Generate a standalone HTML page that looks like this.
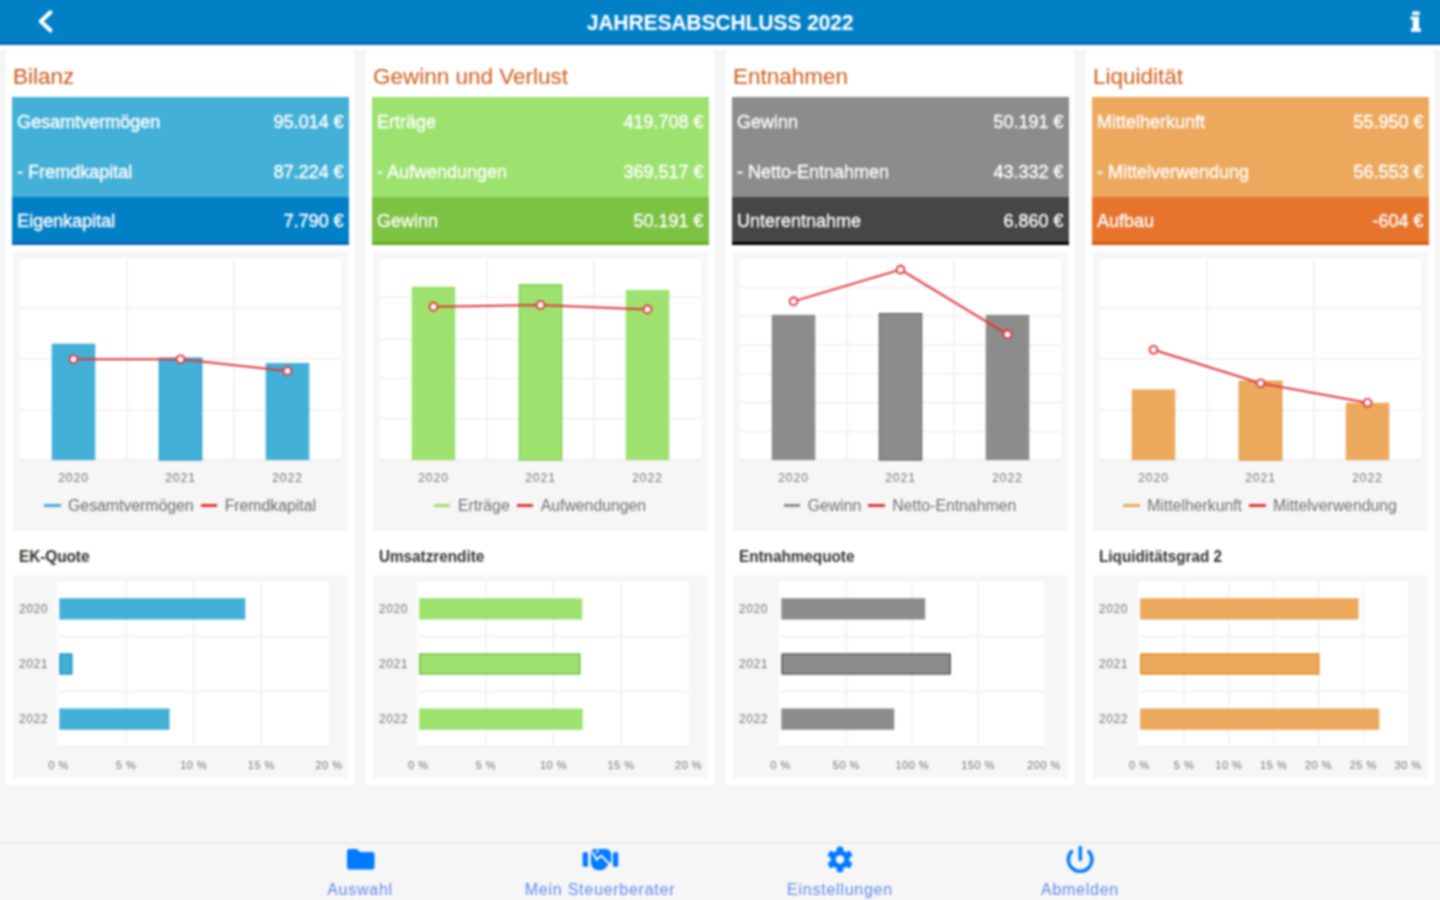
<!DOCTYPE html>
<html><head><meta charset="utf-8"><title>Jahresabschluss 2022</title>
<style>
*{margin:0;padding:0;box-sizing:content-box}
html,body{width:1440px;height:900px;overflow:hidden;background:#f6f6f6;font-family:"Liberation Sans", sans-serif}
body{position:relative}
.t,.rt,.ax,.lg,.st,.nv{position:absolute;white-space:nowrap}
.t{line-height:26px}
.rt{color:#fff;font-size:18px;line-height:21px;-webkit-text-stroke:0.35px #fff}
.ax{color:#747474;font-size:12px;line-height:16px;letter-spacing:1px}
.ax2{font-size:11px;letter-spacing:0.5px}
.ax3{letter-spacing:0.6px}
.lg{text-align:center;font-size:15.8px;line-height:18px;color:#707070}
.ll{display:inline-block;width:16.5px;height:3px;vertical-align:middle;margin-right:7.5px;position:relative;top:-1px}
.st{font-size:16px;font-weight:700;color:#333;line-height:20px}
.nv{width:200px;text-align:center;top:880px;font-size:16px;letter-spacing:0.75px;color:#5f88ee;line-height:20px}
</style></head>
<body>
<div id="wrap" style="position:absolute;left:0;top:0;width:1440px;height:900px;filter:blur(1px)">

<div style="position:absolute;left:-12px;top:-12px;width:1464px;height:54px;background:#0280c6;border-bottom:3px solid #0467b4"></div>
<div style="position:absolute;left:-12px;top:45px;width:1464px;height:4.5px;background:#fff"></div>
<svg style="position:absolute;left:0;top:0" width="1440" height="45" viewBox="0 0 1440 45">
 <polyline points="50.5,12.3 40.8,21.3 50.5,30.4" fill="none" stroke="#fff" stroke-width="4.1" stroke-linecap="round" stroke-linejoin="round"/>
 <rect x="1412" y="11.5" width="7.8" height="3.4" rx="1.2" fill="#fff"/>
 <path d="M1410.5 16.5 L1419 16.5 L1419 28.5 L1421 28.5 L1421 31.8 L1410.9 31.8 L1410.9 28.5 L1412.8 28.5 L1412.8 19.5 L1410.5 19.5 Z" fill="#fff"/>
</svg>
<div style="position:absolute;left:0;top:10px;width:1440px;text-align:center;color:#fff;font-weight:700;font-size:22.5px;line-height:26px;transform:scaleX(0.927);transform-origin:720px 0">JAHRESABSCHLUSS 2022</div>

<div style="position:absolute;left:6px;top:51px;width:348px;height:734px;background:#fff"></div>
<div class="t" style="left:13px;top:64px;font-size:22.5px;color:#cd5c16">Bilanz</div>
<div style="position:absolute;left:12px;top:97px;width:337px;height:100px;background:#43b0d7"></div>
<div style="position:absolute;left:12px;top:197px;width:337px;height:45px;background:#0280c6;border-bottom:3px solid #0467b4"></div>
<div class="rt" style="left:17px;top:111.5px">Gesamtvermögen</div>
<div class="rt" style="right:1096.5px;top:111.5px;text-align:right">95.014 €</div>
<div class="rt" style="left:17px;top:161.5px">- Fremdkapital</div>
<div class="rt" style="right:1096.5px;top:161.5px;text-align:right">87.224 €</div>
<div class="rt" style="left:17px;top:211.0px">Eigenkapital</div>
<div class="rt" style="right:1096.5px;top:211.0px;text-align:right">7.790 €</div>
<div style="position:absolute;left:13px;top:251.5px;width:335px;height:279.5px;background:#f6f6f6"></div>
<svg style="position:absolute;left:0;top:0" width="1440" height="900" viewBox="0 0 1440 900"><rect x="20" y="258.5" width="321" height="201.5" fill="#fff"/><line x1="20" x2="341" y1="308" y2="308" stroke="#e8e8e8" stroke-width="1"/><line x1="20" x2="341" y1="358.8" y2="358.8" stroke="#e8e8e8" stroke-width="1"/><line x1="20" x2="341" y1="410.2" y2="410.2" stroke="#e8e8e8" stroke-width="1"/><line x1="127.0" x2="127.0" y1="258.5" y2="460" stroke="#e8e8e8" stroke-width="1"/><line x1="234.0" x2="234.0" y1="258.5" y2="460" stroke="#e8e8e8" stroke-width="1"/><line x1="20" x2="341" y1="460" y2="460" stroke="#e4e4e4" stroke-width="1"/><rect x="51.75" y="343.7" width="43.5" height="116.30000000000001" fill="#43b0d7"/><rect x="159.25" y="358.1" width="42.5" height="101.89999999999998" fill="#43b0d7" stroke="#1a8fc0" stroke-width="1"/><rect x="265.75" y="363.0" width="43.5" height="97.0" fill="#43b0d7"/><polyline points="73.5,359.3 180.5,359.3 287.5,371.0" fill="none" stroke="#e2343a" stroke-width="2"/><circle cx="73.5" cy="359.3" r="3.9" fill="#fff" stroke="#e2343a" stroke-width="1.9"/><circle cx="180.5" cy="359.3" r="3.9" fill="#fff" stroke="#e2343a" stroke-width="1.9"/><circle cx="287.5" cy="371.0" r="3.9" fill="#fff" stroke="#e2343a" stroke-width="1.9"/></svg>
<div class="ax" style="left:43.5px;top:470px;width:60px;text-align:center">2020</div>
<div class="ax" style="left:150.5px;top:470px;width:60px;text-align:center">2021</div>
<div class="ax" style="left:257.5px;top:470px;width:60px;text-align:center">2022</div>
<div class="lg" style="left:6px;top:497px;width:348px"><span class="ll" style="background:#43b0d7"></span>Gesamtvermögen<span class="ll" style="background:#e2343a;margin-left:7px"></span>Fremdkapital</div>
<div class="st" style="left:19px;top:547px;transform:scaleX(0.955);transform-origin:0 0">EK-Quote</div>
<div style="position:absolute;left:13px;top:574.5px;width:335px;height:203.5px;background:#f6f6f6"></div>
<svg style="position:absolute;left:0;top:0" width="1440" height="900" viewBox="0 0 1440 900"><rect x="57.0" y="581.3" width="272.0" height="165.4000000000001" fill="#fff"/><line x1="126.125" x2="126.125" y1="581.3" y2="746.7" stroke="#e8e8e8" stroke-width="1"/><line x1="193.75" x2="193.75" y1="581.3" y2="746.7" stroke="#e8e8e8" stroke-width="1"/><line x1="261.375" x2="261.375" y1="581.3" y2="746.7" stroke="#e8e8e8" stroke-width="1"/><line x1="58.5" x2="329.0" y1="636.4333333333333" y2="636.4333333333333" stroke="#e8e8e8" stroke-width="1"/><line x1="58.5" x2="329.0" y1="691.5666666666667" y2="691.5666666666667" stroke="#e8e8e8" stroke-width="1"/><line x1="58.5" x2="329.0" y1="746.7" y2="746.7" stroke="#e8e8e8" stroke-width="1"/><rect x="59.3" y="598.2166666666667" width="186.0" height="21.3" fill="#43b0d7"/><rect x="60.0" y="654.1" width="11.75" height="19.8" fill="#43b0d7" stroke="#1a8fc0" stroke-width="1.5"/><rect x="59.3" y="708.4833333333333" width="110.2" height="21.3" fill="#43b0d7"/></svg>
<div class="ax ax3" style="left:12px;top:600.8666666666667px;width:36px;text-align:right">2020</div>
<div class="ax ax3" style="left:12px;top:656.0px;width:36px;text-align:right">2021</div>
<div class="ax ax3" style="left:12px;top:711.1333333333333px;width:36px;text-align:right">2022</div>
<div class="ax ax2" style="left:28.5px;top:757px;width:60px;text-align:center">0 %</div>
<div class="ax ax2" style="left:96.125px;top:757px;width:60px;text-align:center">5 %</div>
<div class="ax ax2" style="left:163.75px;top:757px;width:60px;text-align:center">10 %</div>
<div class="ax ax2" style="left:231.375px;top:757px;width:60px;text-align:center">15 %</div>
<div class="ax ax2" style="left:299.0px;top:757px;width:60px;text-align:center">20 %</div><div style="position:absolute;left:366px;top:51px;width:348px;height:734px;background:#fff"></div>
<div class="t" style="left:373px;top:64px;font-size:22.5px;color:#cd5c16">Gewinn und Verlust</div>
<div style="position:absolute;left:372px;top:97px;width:337px;height:100px;background:#9de26e"></div>
<div style="position:absolute;left:372px;top:197px;width:337px;height:45px;background:#7cc243;border-bottom:3px solid #63af14"></div>
<div class="rt" style="left:377px;top:111.5px">Erträge</div>
<div class="rt" style="right:736.5px;top:111.5px;text-align:right">419.708 €</div>
<div class="rt" style="left:377px;top:161.5px">- Aufwendungen</div>
<div class="rt" style="right:736.5px;top:161.5px;text-align:right">369.517 €</div>
<div class="rt" style="left:377px;top:211.0px">Gewinn</div>
<div class="rt" style="right:736.5px;top:211.0px;text-align:right">50.191 €</div>
<div style="position:absolute;left:373px;top:251.5px;width:335px;height:279.5px;background:#f6f6f6"></div>
<svg style="position:absolute;left:0;top:0" width="1440" height="900" viewBox="0 0 1440 900"><rect x="380" y="258.5" width="321" height="201.5" fill="#fff"/><line x1="380" x2="701" y1="297" y2="297" stroke="#e8e8e8" stroke-width="1"/><line x1="380" x2="701" y1="339.3" y2="339.3" stroke="#e8e8e8" stroke-width="1"/><line x1="380" x2="701" y1="378.4" y2="378.4" stroke="#e8e8e8" stroke-width="1"/><line x1="380" x2="701" y1="418.7" y2="418.7" stroke="#e8e8e8" stroke-width="1"/><line x1="487.0" x2="487.0" y1="258.5" y2="460" stroke="#e8e8e8" stroke-width="1"/><line x1="594.0" x2="594.0" y1="258.5" y2="460" stroke="#e8e8e8" stroke-width="1"/><line x1="380" x2="701" y1="460" y2="460" stroke="#e4e4e4" stroke-width="1"/><rect x="411.75" y="286.7" width="43.5" height="173.3" fill="#9de26e"/><rect x="519.25" y="284.7" width="42.5" height="175.3" fill="#9de26e" stroke="#6cc03a" stroke-width="1"/><rect x="625.75" y="289.9" width="43.5" height="170.10000000000002" fill="#9de26e"/><polyline points="433.5,306.7 540.5,305.0 647.5,309.4" fill="none" stroke="#e2343a" stroke-width="2"/><circle cx="433.5" cy="306.7" r="3.9" fill="#fff" stroke="#e2343a" stroke-width="1.9"/><circle cx="540.5" cy="305.0" r="3.9" fill="#fff" stroke="#e2343a" stroke-width="1.9"/><circle cx="647.5" cy="309.4" r="3.9" fill="#fff" stroke="#e2343a" stroke-width="1.9"/></svg>
<div class="ax" style="left:403.5px;top:470px;width:60px;text-align:center">2020</div>
<div class="ax" style="left:510.5px;top:470px;width:60px;text-align:center">2021</div>
<div class="ax" style="left:617.5px;top:470px;width:60px;text-align:center">2022</div>
<div class="lg" style="left:366px;top:497px;width:348px"><span class="ll" style="background:#9de26e"></span>Erträge<span class="ll" style="background:#e2343a;margin-left:7px"></span>Aufwendungen</div>
<div class="st" style="left:379px;top:547px;transform:scaleX(0.955);transform-origin:0 0">Umsatzrendite</div>
<div style="position:absolute;left:373px;top:574.5px;width:335px;height:203.5px;background:#f6f6f6"></div>
<svg style="position:absolute;left:0;top:0" width="1440" height="900" viewBox="0 0 1440 900"><rect x="416.8" y="581.3" width="271.8" height="165.4000000000001" fill="#fff"/><line x1="485.875" x2="485.875" y1="581.3" y2="746.7" stroke="#e8e8e8" stroke-width="1"/><line x1="553.45" x2="553.45" y1="581.3" y2="746.7" stroke="#e8e8e8" stroke-width="1"/><line x1="621.0250000000001" x2="621.0250000000001" y1="581.3" y2="746.7" stroke="#e8e8e8" stroke-width="1"/><line x1="418.3" x2="688.6" y1="636.4333333333333" y2="636.4333333333333" stroke="#e8e8e8" stroke-width="1"/><line x1="418.3" x2="688.6" y1="691.5666666666667" y2="691.5666666666667" stroke="#e8e8e8" stroke-width="1"/><line x1="418.3" x2="688.6" y1="746.7" y2="746.7" stroke="#e8e8e8" stroke-width="1"/><rect x="419.1" y="598.2166666666667" width="163.10000000000002" height="21.3" fill="#9de26e"/><rect x="419.8" y="654.1" width="159.95" height="19.8" fill="#9de26e" stroke="#6cc03a" stroke-width="1.5"/><rect x="419.1" y="708.4833333333333" width="163.60000000000002" height="21.3" fill="#9de26e"/></svg>
<div class="ax ax3" style="left:372px;top:600.8666666666667px;width:36px;text-align:right">2020</div>
<div class="ax ax3" style="left:372px;top:656.0px;width:36px;text-align:right">2021</div>
<div class="ax ax3" style="left:372px;top:711.1333333333333px;width:36px;text-align:right">2022</div>
<div class="ax ax2" style="left:388.3px;top:757px;width:60px;text-align:center">0 %</div>
<div class="ax ax2" style="left:455.875px;top:757px;width:60px;text-align:center">5 %</div>
<div class="ax ax2" style="left:523.45px;top:757px;width:60px;text-align:center">10 %</div>
<div class="ax ax2" style="left:591.0250000000001px;top:757px;width:60px;text-align:center">15 %</div>
<div class="ax ax2" style="left:658.6px;top:757px;width:60px;text-align:center">20 %</div><div style="position:absolute;left:726px;top:51px;width:348px;height:734px;background:#fff"></div>
<div class="t" style="left:733px;top:64px;font-size:22.5px;color:#cd5c16">Entnahmen</div>
<div style="position:absolute;left:732px;top:97px;width:337px;height:100px;background:#8c8c8c"></div>
<div style="position:absolute;left:732px;top:197px;width:337px;height:45px;background:#464646;border-bottom:3px solid #000000"></div>
<div class="rt" style="left:737px;top:111.5px">Gewinn</div>
<div class="rt" style="right:376.5px;top:111.5px;text-align:right">50.191 €</div>
<div class="rt" style="left:737px;top:161.5px">- Netto-Entnahmen</div>
<div class="rt" style="right:376.5px;top:161.5px;text-align:right">43.332 €</div>
<div class="rt" style="left:737px;top:211.0px">Unterentnahme</div>
<div class="rt" style="right:376.5px;top:211.0px;text-align:right">6.860 €</div>
<div style="position:absolute;left:733px;top:251.5px;width:335px;height:279.5px;background:#f6f6f6"></div>
<svg style="position:absolute;left:0;top:0" width="1440" height="900" viewBox="0 0 1440 900"><rect x="740" y="258.5" width="321" height="201.5" fill="#fff"/><line x1="740" x2="1061" y1="287.3" y2="287.3" stroke="#e8e8e8" stroke-width="1"/><line x1="740" x2="1061" y1="316" y2="316" stroke="#e8e8e8" stroke-width="1"/><line x1="740" x2="1061" y1="344.9" y2="344.9" stroke="#e8e8e8" stroke-width="1"/><line x1="740" x2="1061" y1="373.7" y2="373.7" stroke="#e8e8e8" stroke-width="1"/><line x1="740" x2="1061" y1="402.5" y2="402.5" stroke="#e8e8e8" stroke-width="1"/><line x1="740" x2="1061" y1="431.3" y2="431.3" stroke="#e8e8e8" stroke-width="1"/><line x1="847.0" x2="847.0" y1="258.5" y2="460" stroke="#e8e8e8" stroke-width="1"/><line x1="954.0" x2="954.0" y1="258.5" y2="460" stroke="#e8e8e8" stroke-width="1"/><line x1="740" x2="1061" y1="460" y2="460" stroke="#e4e4e4" stroke-width="1"/><rect x="771.75" y="314.8" width="43.5" height="145.2" fill="#8c8c8c"/><rect x="879.25" y="313.5" width="42.5" height="146.5" fill="#8c8c8c" stroke="#555555" stroke-width="1"/><rect x="985.75" y="314.8" width="43.5" height="145.2" fill="#8c8c8c"/><polyline points="793.5,301.4 900.5,269.6 1007.5,334.4" fill="none" stroke="#e2343a" stroke-width="2"/><circle cx="793.5" cy="301.4" r="3.9" fill="#fff" stroke="#e2343a" stroke-width="1.9"/><circle cx="900.5" cy="269.6" r="3.9" fill="#fff" stroke="#e2343a" stroke-width="1.9"/><circle cx="1007.5" cy="334.4" r="3.9" fill="#fff" stroke="#e2343a" stroke-width="1.9"/></svg>
<div class="ax" style="left:763.5px;top:470px;width:60px;text-align:center">2020</div>
<div class="ax" style="left:870.5px;top:470px;width:60px;text-align:center">2021</div>
<div class="ax" style="left:977.5px;top:470px;width:60px;text-align:center">2022</div>
<div class="lg" style="left:726px;top:497px;width:348px"><span class="ll" style="background:#8c8c8c"></span>Gewinn<span class="ll" style="background:#e2343a;margin-left:7px"></span>Netto-Entnahmen</div>
<div class="st" style="left:739px;top:547px;transform:scaleX(0.955);transform-origin:0 0">Entnahmequote</div>
<div style="position:absolute;left:733px;top:574.5px;width:335px;height:203.5px;background:#f6f6f6"></div>
<svg style="position:absolute;left:0;top:0" width="1440" height="900" viewBox="0 0 1440 900"><rect x="779.0" y="581.3" width="265.0" height="165.4000000000001" fill="#fff"/><line x1="846.375" x2="846.375" y1="581.3" y2="746.7" stroke="#e8e8e8" stroke-width="1"/><line x1="912.25" x2="912.25" y1="581.3" y2="746.7" stroke="#e8e8e8" stroke-width="1"/><line x1="978.125" x2="978.125" y1="581.3" y2="746.7" stroke="#e8e8e8" stroke-width="1"/><line x1="780.5" x2="1044.0" y1="636.4333333333333" y2="636.4333333333333" stroke="#e8e8e8" stroke-width="1"/><line x1="780.5" x2="1044.0" y1="691.5666666666667" y2="691.5666666666667" stroke="#e8e8e8" stroke-width="1"/><line x1="780.5" x2="1044.0" y1="746.7" y2="746.7" stroke="#e8e8e8" stroke-width="1"/><rect x="781.3" y="598.2166666666667" width="143.90000000000003" height="21.3" fill="#8c8c8c"/><rect x="782.0" y="654.1" width="168.14999999999998" height="19.8" fill="#8c8c8c" stroke="#555555" stroke-width="1.5"/><rect x="781.3" y="708.4833333333333" width="112.90000000000005" height="21.3" fill="#8c8c8c"/></svg>
<div class="ax ax3" style="left:732px;top:600.8666666666667px;width:36px;text-align:right">2020</div>
<div class="ax ax3" style="left:732px;top:656.0px;width:36px;text-align:right">2021</div>
<div class="ax ax3" style="left:732px;top:711.1333333333333px;width:36px;text-align:right">2022</div>
<div class="ax ax2" style="left:750.5px;top:757px;width:60px;text-align:center">0 %</div>
<div class="ax ax2" style="left:816.375px;top:757px;width:60px;text-align:center">50 %</div>
<div class="ax ax2" style="left:882.25px;top:757px;width:60px;text-align:center">100 %</div>
<div class="ax ax2" style="left:948.125px;top:757px;width:60px;text-align:center">150 %</div>
<div class="ax ax2" style="left:1014.0px;top:757px;width:60px;text-align:center">200 %</div><div style="position:absolute;left:1086px;top:51px;width:348px;height:734px;background:#fff"></div>
<div class="t" style="left:1093px;top:64px;font-size:22.5px;color:#cd5c16">Liquidität</div>
<div style="position:absolute;left:1092px;top:97px;width:337px;height:100px;background:#eca95e"></div>
<div style="position:absolute;left:1092px;top:197px;width:337px;height:45px;background:#e6742d;border-bottom:3px solid #d65a0c"></div>
<div class="rt" style="left:1097px;top:111.5px">Mittelherkunft</div>
<div class="rt" style="right:16.5px;top:111.5px;text-align:right">55.950 €</div>
<div class="rt" style="left:1097px;top:161.5px">- Mittelverwendung</div>
<div class="rt" style="right:16.5px;top:161.5px;text-align:right">56.553 €</div>
<div class="rt" style="left:1097px;top:211.0px">Aufbau</div>
<div class="rt" style="right:16.5px;top:211.0px;text-align:right">-604 €</div>
<div style="position:absolute;left:1093px;top:251.5px;width:335px;height:279.5px;background:#f6f6f6"></div>
<svg style="position:absolute;left:0;top:0" width="1440" height="900" viewBox="0 0 1440 900"><rect x="1100" y="258.5" width="321" height="201.5" fill="#fff"/><line x1="1100" x2="1421" y1="308" y2="308" stroke="#e8e8e8" stroke-width="1"/><line x1="1100" x2="1421" y1="358.8" y2="358.8" stroke="#e8e8e8" stroke-width="1"/><line x1="1100" x2="1421" y1="410.2" y2="410.2" stroke="#e8e8e8" stroke-width="1"/><line x1="1207.0" x2="1207.0" y1="258.5" y2="460" stroke="#e8e8e8" stroke-width="1"/><line x1="1314.0" x2="1314.0" y1="258.5" y2="460" stroke="#e8e8e8" stroke-width="1"/><line x1="1100" x2="1421" y1="460" y2="460" stroke="#e4e4e4" stroke-width="1"/><rect x="1131.75" y="389.4" width="43.5" height="70.60000000000002" fill="#eca95e"/><rect x="1239.25" y="381.3" width="42.5" height="78.69999999999999" fill="#eca95e" stroke="#d98a1c" stroke-width="1"/><rect x="1345.75" y="402.8" width="43.5" height="57.19999999999999" fill="#eca95e"/><polyline points="1153.5,349.8 1260.5,383.3 1367.5,402.8" fill="none" stroke="#e2343a" stroke-width="2"/><circle cx="1153.5" cy="349.8" r="3.9" fill="#fff" stroke="#e2343a" stroke-width="1.9"/><circle cx="1260.5" cy="383.3" r="3.9" fill="#fff" stroke="#e2343a" stroke-width="1.9"/><circle cx="1367.5" cy="402.8" r="3.9" fill="#fff" stroke="#e2343a" stroke-width="1.9"/></svg>
<div class="ax" style="left:1123.5px;top:470px;width:60px;text-align:center">2020</div>
<div class="ax" style="left:1230.5px;top:470px;width:60px;text-align:center">2021</div>
<div class="ax" style="left:1337.5px;top:470px;width:60px;text-align:center">2022</div>
<div class="lg" style="left:1086px;top:497px;width:348px"><span class="ll" style="background:#eca95e"></span>Mittelherkunft<span class="ll" style="background:#e2343a;margin-left:7px"></span>Mittelverwendung</div>
<div class="st" style="left:1099px;top:547px;transform:scaleX(0.955);transform-origin:0 0">Liquiditätsgrad 2</div>
<div style="position:absolute;left:1093px;top:574.5px;width:335px;height:203.5px;background:#f6f6f6"></div>
<svg style="position:absolute;left:0;top:0" width="1440" height="900" viewBox="0 0 1440 900"><rect x="1137.8" y="581.3" width="270.20000000000005" height="165.4000000000001" fill="#fff"/><line x1="1184.0833333333333" x2="1184.0833333333333" y1="581.3" y2="746.7" stroke="#e8e8e8" stroke-width="1"/><line x1="1228.8666666666666" x2="1228.8666666666666" y1="581.3" y2="746.7" stroke="#e8e8e8" stroke-width="1"/><line x1="1273.65" x2="1273.65" y1="581.3" y2="746.7" stroke="#e8e8e8" stroke-width="1"/><line x1="1318.4333333333334" x2="1318.4333333333334" y1="581.3" y2="746.7" stroke="#e8e8e8" stroke-width="1"/><line x1="1363.2166666666667" x2="1363.2166666666667" y1="581.3" y2="746.7" stroke="#e8e8e8" stroke-width="1"/><line x1="1139.3" x2="1408.0" y1="636.4333333333333" y2="636.4333333333333" stroke="#e8e8e8" stroke-width="1"/><line x1="1139.3" x2="1408.0" y1="691.5666666666667" y2="691.5666666666667" stroke="#e8e8e8" stroke-width="1"/><line x1="1139.3" x2="1408.0" y1="746.7" y2="746.7" stroke="#e8e8e8" stroke-width="1"/><rect x="1140.1" y="598.2166666666667" width="218.49999999999994" height="21.3" fill="#eca95e"/><rect x="1140.8" y="654.1" width="177.85000000000014" height="19.8" fill="#eca95e" stroke="#d98a1c" stroke-width="1.5"/><rect x="1140.1" y="708.4833333333333" width="239.2" height="21.3" fill="#eca95e"/></svg>
<div class="ax ax3" style="left:1092px;top:600.8666666666667px;width:36px;text-align:right">2020</div>
<div class="ax ax3" style="left:1092px;top:656.0px;width:36px;text-align:right">2021</div>
<div class="ax ax3" style="left:1092px;top:711.1333333333333px;width:36px;text-align:right">2022</div>
<div class="ax ax2" style="left:1109.3px;top:757px;width:60px;text-align:center">0 %</div>
<div class="ax ax2" style="left:1154.0833333333333px;top:757px;width:60px;text-align:center">5 %</div>
<div class="ax ax2" style="left:1198.8666666666666px;top:757px;width:60px;text-align:center">10 %</div>
<div class="ax ax2" style="left:1243.65px;top:757px;width:60px;text-align:center">15 %</div>
<div class="ax ax2" style="left:1288.4333333333334px;top:757px;width:60px;text-align:center">20 %</div>
<div class="ax ax2" style="left:1333.2166666666667px;top:757px;width:60px;text-align:center">25 %</div>
<div class="ax ax2" style="left:1378.0px;top:757px;width:60px;text-align:center">30 %</div>

<div style="position:absolute;left:-12px;top:842px;width:1464px;height:2px;background:#e9e9e9"></div>
<svg style="position:absolute;left:0;top:0" width="1440" height="900" viewBox="0 0 1440 900">
 <path d="M347 851.5 Q347 849 349.5 849 L357 849 L360 852 L372 852 Q374.5 852 374.5 854.5 L374.5 867 Q374.5 869.5 372 869.5 L349.5 869.5 Q347 869.5 347 867 Z" fill="#007aff"/>
 <g fill="#007aff">
  <rect x="582.7" y="852.3" width="5.3" height="14.4" rx="1.2"/>
  <rect x="612.9" y="852.3" width="5.3" height="14.4" rx="1.2"/>
  <path d="M591 853 Q591 849.5 594.5 849 L606 849 Q610.5 849.5 611 853.5 L611.3 861.5 L604.5 869 Q602 870.5 599 870.3 L595 869.5 Q591 866.5 590.8 862 Z"/>
 </g>
 <polyline points="592.2,851.8 596.6,859.6 601.2,855.6 610.6,865.2" fill="none" stroke="#f6f6f6" stroke-width="2"/>
 <line x1="597.8" y1="848.6" x2="597.2" y2="853.2" stroke="#f6f6f6" stroke-width="1.5"/>
 <g transform="translate(840,859.5)" fill="#007aff">
  <circle r="9.5"/>
  <rect x="-3.2" y="-12.8" width="6.4" height="25.6" rx="1.2"/>
  <rect x="-3.2" y="-12.8" width="6.4" height="25.6" rx="1.2" transform="rotate(60)"/>
  <rect x="-3.2" y="-12.8" width="6.4" height="25.6" rx="1.2" transform="rotate(120)"/>
  <circle r="4.2" fill="#f6f6f6"/>
 </g>
 <path d="M1071.5 851.5 A11.8 11.8 0 1 0 1088.8 851.5" fill="none" stroke="#007aff" stroke-width="3.4" stroke-linecap="round"/>
 <line x1="1080.3" y1="847.5" x2="1080.3" y2="859.5" stroke="#007aff" stroke-width="3.4" stroke-linecap="round"/>
</svg>
<div class="nv" style="left:260px">Auswahl</div>
<div class="nv" style="left:500px">Mein Steuerberater</div>
<div class="nv" style="left:740px">Einstellungen</div>
<div class="nv" style="left:980px">Abmelden</div>

</div>
</body></html>
